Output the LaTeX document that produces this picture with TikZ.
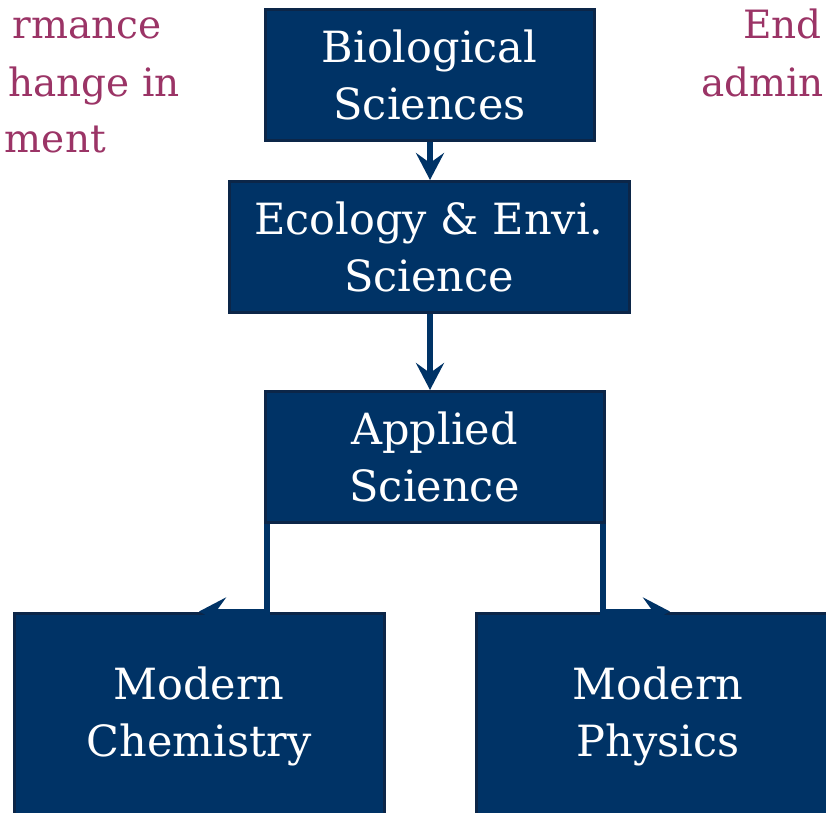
\documentclass[tikz,border=0pt]{standalone}
\usepackage{fontspec}
\setmainfont{DejaVu Serif}
\usetikzlibrary{arrows.meta}
\definecolor{navy}{RGB}{0,51,102}
\definecolor{navyedge}{RGB}{12,38,72}
\definecolor{plum}{RGB}{155,52,102}
\tikzset{
  box/.style={draw=navyedge, line width=3pt, fill=navy, text=white, align=center,
    font=\fontsize{43}{57}\selectfont, inner sep=0pt},
  conn/.style={draw=navy, line width=6pt, -{Stealth[length=27pt,width=28pt,inset=10pt]}},
  side/.style={text=plum, font=\fontsize{39}{57}\selectfont, inner sep=0pt}
}
\begin{document}
\begin{tikzpicture}[x=1pt,y=-1pt]
\useasboundingbox (0,0) rectangle (826,812);
\node[box, minimum width=329pt, minimum height=131pt] (bio) at (429.5,75) {Biological\\Sciences};
\node[box, minimum width=400pt, minimum height=131pt] (eco) at (429,247) {Ecology \& Envi.\\Science};
\node[box, minimum width=339pt, minimum height=131pt] (app) at (434.5,457) {Applied\\Science};
\node[box, minimum width=370pt, minimum height=206pt] (chem) at (199,716) {Modern\\Chemistry};
\node[box, minimum width=364pt, minimum height=206pt] (phys) at (658,716) {Modern\\Physics};
\draw[conn] (bio.south -| 430,0) -- (eco.north -| 430,0);
\draw[conn] (eco.south -| 430,0) -- (app.north -| 430,0);
\coordinate (al) at ([xshift=3pt]app.south west);
\coordinate (ar) at ([xshift=-3pt]app.south east);
\draw[conn] (al) |- (chem.north);
\draw[conn] (ar) |- ([xshift=12pt]phys.north);
\node[side, anchor=base east] (l1) at (162,38) {rmance};
\node[side, anchor=base east] (l2) at (180,96) {hange in};
\node[side, anchor=base east] (l3) at (106,152) {ment};
\node[side, anchor=base east] (r1) at (822,38) {End};
\node[side, anchor=base east] (r2) at (824,96) {admin};
\end{tikzpicture}
\end{document}
